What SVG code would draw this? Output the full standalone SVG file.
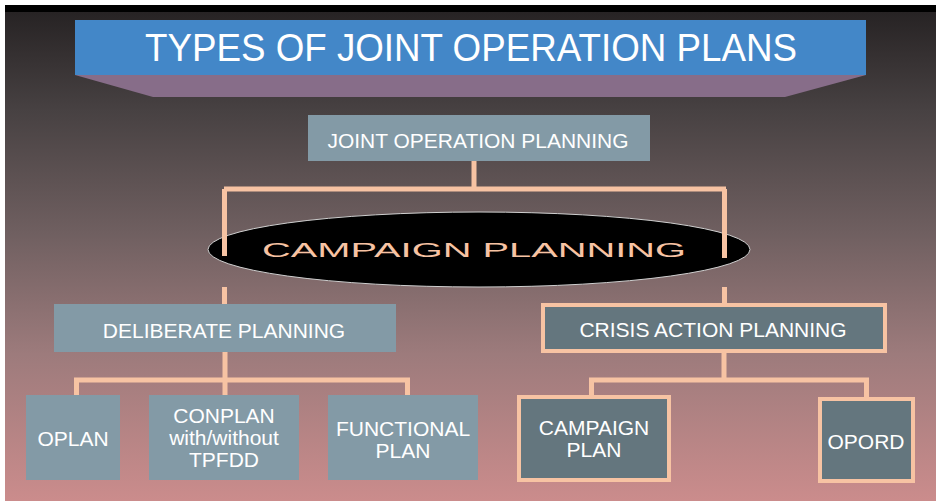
<svg xmlns="http://www.w3.org/2000/svg" width="936" height="501" viewBox="0 0 936 501">
<defs>
<linearGradient id="bg" x1="0" y1="12" x2="0" y2="501" gradientUnits="userSpaceOnUse">
<stop offset="0" stop-color="#272324"/>
<stop offset="0.2" stop-color="#474142"/>
<stop offset="0.45" stop-color="#6f5f60"/>
<stop offset="0.7" stop-color="#9d7b7c"/>
<stop offset="1" stop-color="#cb8c8c"/>
</linearGradient>
<style>
.t{font-family:"Liberation Sans",Arial,sans-serif;fill:#ffffff;text-anchor:middle}
.lt{fill:#839aa6}
.dk{fill:#64767e;stroke:#f7c3a3;stroke-width:4}
.c{fill:none;stroke:#f7c3a3;stroke-width:5}
</style>
</defs>
<rect x="0" y="0" width="936" height="501" fill="#ffffff"/>
<rect x="5" y="5" width="931" height="496" fill="url(#bg)"/>
<rect x="5" y="5" width="931" height="7" fill="#000000"/>
<g id="title">
<polygon points="75,75 866,75 785,97 153,97" fill="#876d89"/>
<rect x="75" y="20" width="791" height="55" fill="#4387c8"/>
<text class="t" x="471" y="61" font-size="39" textLength="652" lengthAdjust="spacingAndGlyphs">TYPES OF JOINT OPERATION PLANS</text>
</g>
<g id="campaign-planning">
<ellipse cx="479" cy="249.5" rx="271" ry="37.5" fill="#000000" stroke="#cfcfcf" stroke-width="1"/>
<text x="474" y="257" font-family="Liberation Sans,Arial,sans-serif" font-size="20" fill="#f7c3a3" text-anchor="middle" textLength="424" lengthAdjust="spacingAndGlyphs">CAMPAIGN PLANNING</text>
</g>
<g id="connectors">
<path class="c" d="M474,161 V189 M224,189 H726 M224.5,189 V256 M724.5,189 V258 M224.5,287 V305 M724.5,287 V304"/>
<path class="c" d="M225,352 V380 M74,380 H410 M76.5,380 V396 M225,380 V396 M407.5,380 V396"/>
<path class="c" d="M724,353 V380 M589,380 H869 M591.5,380 V396 M866.5,380 V398"/>
</g>
<g id="joint-operation-planning">
<rect class="lt" x="308" y="115" width="342" height="46"/>
<text class="t" x="478" y="148" font-size="21" textLength="301" lengthAdjust="spacingAndGlyphs">JOINT OPERATION PLANNING</text>
</g>
<g id="deliberate-planning">
<rect class="lt" x="54" y="304" width="342" height="48"/>
<text class="t" x="224" y="338" font-size="21">DELIBERATE PLANNING</text>
</g>
<g id="crisis-action-planning">
<rect class="dk" x="543" y="305" width="342" height="46"/>
<text class="t" x="713" y="337" font-size="21">CRISIS ACTION PLANNING</text>
</g>
<g id="oplan">
<rect class="lt" x="26" y="395" width="94" height="85"/>
<text class="t" x="73" y="446" font-size="21">OPLAN</text>
</g>
<g id="conplan">
<rect class="lt" x="149" y="395" width="150" height="85"/>
<text class="t" x="224" y="423" font-size="21">CONPLAN</text>
<text class="t" x="224" y="445" font-size="21">with/without</text>
<text class="t" x="224" y="467" font-size="21">TPFDD</text>
</g>
<g id="functional-plan">
<rect class="lt" x="328" y="395" width="150" height="85"/>
<text class="t" x="403" y="436" font-size="21">FUNCTIONAL</text>
<text class="t" x="403" y="458" font-size="21">PLAN</text>
</g>
<g id="campaign-plan">
<rect class="dk" x="519" y="397" width="150" height="83"/>
<text class="t" x="594" y="435" font-size="21">CAMPAIGN</text>
<text class="t" x="594" y="457" font-size="21">PLAN</text>
</g>
<g id="opord">
<rect class="dk" x="820" y="399" width="93" height="82"/>
<text class="t" x="866" y="449" font-size="21">OPORD</text>
</g>
</svg>
